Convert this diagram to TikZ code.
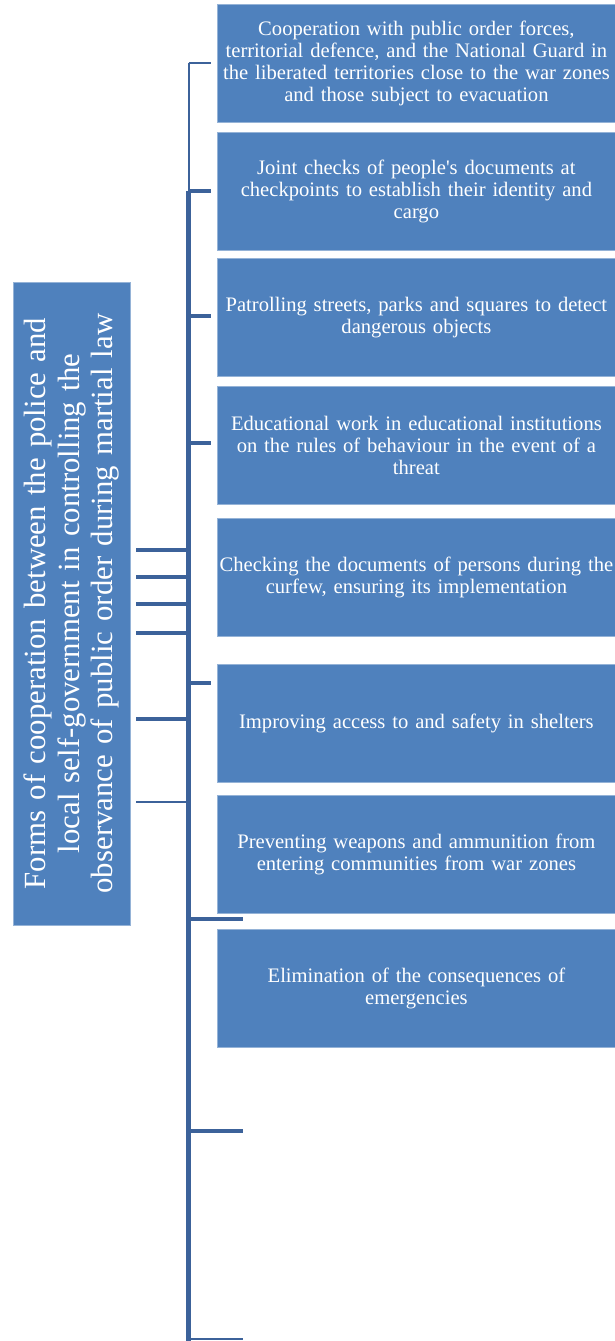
\documentclass[tikz,border=0pt]{standalone}
\usepackage{fontspec}
\setmainfont{Liberation Serif}
\definecolor{boxblue}{HTML}{4F81BD}
\definecolor{linkblue}{HTML}{3C629A}
\begin{document}
\begin{tikzpicture}[x=1pt,y=-1pt,
  item node/.style={rectangle,fill=boxblue,draw=boxblue!60!white,line width=0.8pt,text=white,
    minimum width=398pt,minimum height=118pt,text width=398pt,inner sep=0pt,align=center,
    font=\fontsize{20.6}{22}\selectfont,anchor=north west},
  title node/.style={rectangle,fill=boxblue,draw=boxblue!60!white,line width=0.8pt,text=white,
    minimum width=643pt,minimum height=117pt,text width=620pt,inner sep=1pt,align=center,
    font=\fontsize{30.8}{33.5}\selectfont,rotate=90},
  thin link/.style={draw=linkblue,line width=2pt},
  thick link/.style={draw=linkblue,line width=4.5pt}]
  \useasboundingbox (0,0) rectangle (614,1341);

  \node[title node] (title) at (71.5,603.5) {Forms of cooperation between the police and\\ local self-government in controlling the\\ observance of public order during martial law};

  \node[item node] (1) at (217,4) {Cooperation with public order forces,\\ territorial defence, and the National Guard in\\ the liberated territories close to the war zones\\ and those subject to evacuation};
  \node[item node] (2) at (217,132) {Joint checks of people\textquotesingle s documents at\\ checkpoints to establish their identity and\\ cargo};
  \node[item node] (3) at (217,258) {Patrolling streets, parks and squares to detect\\ dangerous objects};
  \node[item node] (4) at (217,386) {Educational work in educational institutions\\ on the rules of behaviour in the event of a\\ threat};
  \node[item node] (5) at (217,518) {Checking the documents of persons during the\\ curfew, ensuring its implementation};
  \node[item node] (6) at (217,664) {Improving access to and safety in shelters};
  \node[item node] (7) at (217,795) {Preventing weapons and ammunition from\\ entering communities from war zones};
  \node[item node] (8) at (217,929) {Elimination of the consequences of\\ emergencies};

  % spine and its ticks
  \coordinate (a1) at (188.5,63);
  \coordinate (a2) at (188.5,191);
  \coordinate (a3) at (188.5,316);
  \coordinate (a4) at (188.5,443);
  \coordinate (a5) at (188.5,683);
  \coordinate (a6) at (188.5,919);
  \coordinate (a7) at (188.5,1131);
  \coordinate (a8) at (188.5,1339);
  \coordinate (foot) at (188.5,1341);
  \coordinate (b1) at (211,63);
  \coordinate (b2) at (211,191);
  \coordinate (b3) at (211,316);
  \coordinate (b4) at (211,443);
  \coordinate (b5) at (211,683);
  \coordinate (b6) at (243,919);
  \coordinate (b7) at (243,1131);
  \coordinate (b8) at (243,1339);
  \coordinate (c1) at (188.5,550);
  \coordinate (c2) at (188.5,577);
  \coordinate (c3) at (188.5,604);
  \coordinate (c4) at (188.5,633);
  \coordinate (c5) at (188.5,719);
  \coordinate (c6) at (188.5,802);
  \coordinate (d1) at (136,550);
  \coordinate (d2) at (136,577);
  \coordinate (d3) at (136,604);
  \coordinate (d4) at (136,633);
  \coordinate (d5) at (136,719);
  \coordinate (d6) at (136,802);

  \path[thin link] (a1) -- (a2) (a1) -- (b1) (a8) -- (b8) (c6) -- (d6);
  \path[thick link]
    (a2) -- (foot)
    (a2) -- (b2)
    (a3) -- (b3)
    (a4) -- (b4)
    (a5) -- (b5)
    (a6) -- (b6)
    (a7) -- (b7)
    (c1) -- (d1)
    (c2) -- (d2)
    (c3) -- (d3)
    (c4) -- (d4)
    (c5) -- (d5);
\end{tikzpicture}
\end{document}
